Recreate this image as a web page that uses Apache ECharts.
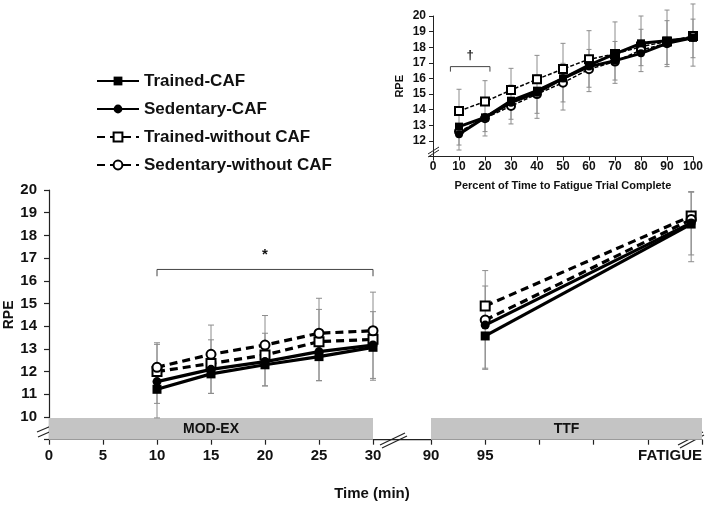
<!DOCTYPE html>
<html>
<head>
<meta charset="utf-8">
<script src="https://cdn.jsdelivr.net/npm/echarts@6/dist/echarts.min.js"></script>
<style>html,body{margin:0;padding:0;background:#fff}#c{width:714px;height:508px}</style>
</head>
<body>
<div id="c"></div>
<script>
// ---------- DATA ----------
const seriesNames = ['Trained-CAF', 'Sedentary-CAF', 'Trained-without CAF', 'Sedentary-without CAF'];

// Main panel: moderate exercise (MOD-EX), minutes
const modX = [10, 15, 20, 25, 30];
const modTrainedCAF = [11.22, 11.90, 12.30, 12.66, 13.07];
const modSedCAF     = [11.56, 12.10, 12.44, 12.88, 13.17];
const modTrainedW   = [12.00, 12.36, 12.73, 13.32, 13.42];
const modSedW       = [12.19, 12.76, 13.17, 13.69, 13.80];
const modErrTrainedCAF = [1.26, 0.86, 0.93, 1.06, 1.45];
const modErrSedCAF     = [0.96, 1.06, 1.07, 1.28, 1.47];
const modErrTrainedW   = [1.20, 1.04, 0.96, 1.42, 1.22];
const modErrSedW       = [1.08, 1.29, 1.30, 1.54, 1.70];

// Main panel: time to fatigue (TTF)
const ttfX = [95, 114];
const ttfTrainedCAF = [13.57, 18.50];
const ttfSedCAF     = [14.05, 18.55];
const ttfTrainedW   = [14.89, 18.85];
const ttfSedW       = [14.27, 18.70];
const ttfErrTrainedCAF = [1.47, 1.66];
const ttfErrSedCAF     = [1.90, 1.41];
const ttfErrTrainedW   = [1.56, 1.08];
const ttfErrSedW       = [1.50, 1.20];

// Inset: percent of time to fatigue trial complete
const pctX = [10, 20, 30, 40, 50, 60, 70, 80, 90, 100];
const pctTrainedCAF = [12.92, 13.51, 14.58, 15.22, 16.01, 16.86, 17.57, 18.25, 18.42, 18.60];
const pctSedCAF     = [12.43, 13.51, 14.45, 15.09, 16.01, 16.76, 17.14, 17.61, 18.25, 18.60];
const pctTrainedW   = [13.92, 14.52, 15.26, 15.95, 16.61, 17.23, 17.57, 18.04, 18.36, 18.72];
const pctSedW       = [12.60, 13.45, 14.24, 15.00, 15.73, 16.59, 17.08, 17.82, 18.25, 18.70];
const pctErrTrainedCAF = [0.90, 1.00, 1.00, 1.00, 0.96, 1.00, 0.80, 0.90, 1.28, 1.20];
const pctErrSedCAF     = [1.01, 1.19, 1.36, 1.64, 2.03, 1.60, 1.45, 1.17, 1.49, 1.81];
const pctErrTrainedW   = [1.39, 1.34, 1.39, 1.53, 1.64, 1.83, 2.05, 1.96, 2.02, 2.05];
const pctErrSedW       = [0.86, 0.85, 0.85, 1.23, 1.23, 1.15, 1.18, 1.00, 1.35, 1.37];

// error direction: +1 up, -1 down
const errDirMain  = [-1, -1, 1, 1];
const errDirInset = [1, -1, 1, -1];

// axis tick labels
const ttfTicks = ['90', '95', '', '', '', 'FATIGUE'];
const bandLabels = ['MOD-EX', 'TTF'];
const bandX = [[0, 30], [90, 115]];
const bandTop = 9.96;

// significance brackets: [x1, x2, yLine, yTickEnd, symbol, ySymbol]
const mainBracket = [10, 30, 16.5, 16.2, '*', 17.15];
const insetBracket = [6.7, 21.9, 16.76, 16.44, '\u2020', 17.45];

// ---------- CHART ----------
const FONT = "'Liberation Sans', Arial, sans-serif";
const INK = '#111';
const ERR = '#8c8c8c';

const styles = [
  {symbol: 'rect', dashed: false},
  {symbol: 'circle', dashed: false},
  {symbol: 'emptyRect', dashed: true},
  {symbol: 'emptyCircle', dashed: true}
];
const modVals = [modTrainedCAF, modSedCAF, modTrainedW, modSedW];
const modErrs = [modErrTrainedCAF, modErrSedCAF, modErrTrainedW, modErrSedW];
const ttfVals = [ttfTrainedCAF, ttfSedCAF, ttfTrainedW, ttfSedW];
const ttfErrs = [ttfErrTrainedCAF, ttfErrSedCAF, ttfErrTrainedW, ttfErrSedW];
const pctVals = [pctTrainedCAF, pctSedCAF, pctTrainedW, pctSedW];
const pctErrs = [pctErrTrainedCAF, pctErrSedCAF, pctErrTrainedW, pctErrSedW];

function errSeries(xs, vals, errs, dir, axis, cap) {
  return {
    type: 'custom', coordinateSystem: 'cartesian2d',
    xAxisIndex: axis, yAxisIndex: axis, silent: true, z: 1,
    encode: {x: 0, y: 1},
    data: xs.map((x, i) => [x, vals[i], errs[i], dir]),
    renderItem: function (params, api) {
      const x = api.value(0), y = api.value(1), e = api.value(2), d = api.value(3);
      const p0 = api.coord([x, y]);
      const p1 = api.coord([x, y + d * e]);
      const st = {stroke: ERR, lineWidth: 1};
      return {type: 'group', children: [
        {type: 'line', shape: {x1: p0[0], y1: p0[1], x2: p1[0], y2: p1[1]}, style: st},
        {type: 'line', shape: {x1: p1[0] - cap, y1: p1[1], x2: p1[0] + cap, y2: p1[1]}, style: st}
      ]};
    }
  };
}

function lineSeries(g, xs, vals, axis, inset) {
  const s = styles[g];
  return {
    name: seriesNames[g], type: 'line', xAxisIndex: axis, yAxisIndex: axis,
    data: xs.map((x, i) => [x, vals[i]]),
    symbol: s.symbol, symbolSize: inset ? 8 : 9, showSymbol: true,
    z: s.dashed ? 3 : 4,
    lineStyle: {color: '#000', width: inset ? (s.dashed ? 1.5 : 3) : 3.2,
      type: s.dashed ? (inset ? [4, 2] : [8, 5]) : 'solid'},
    itemStyle: {color: '#000', borderColor: '#000', borderWidth: s.dashed ? 1.2 : 0},
    emphasis: {disabled: true}, animation: false
  };
}

function bracketSeries(b, axis, fontSize) {
  return {
    type: 'custom', coordinateSystem: 'cartesian2d', xAxisIndex: axis, yAxisIndex: axis,
    silent: true, encode: {x: 0, y: 2},
    data: [b],
    renderItem: function (params, api) {
      const a = api.coord([api.value(0), api.value(3)]);
      const b1 = api.coord([api.value(0), api.value(2)]);
      const c = api.coord([api.value(1), api.value(2)]);
      const d = api.coord([api.value(1), api.value(3)]);
      const t = api.coord([(api.value(0) + api.value(1)) / 2, api.value(5)]);
      return {type: 'group', children: [
        {type: 'polyline', shape: {points: [a, b1, c, d]}, style: {stroke: '#444', lineWidth: 1, fill: null}},
        {type: 'text', x: t[0], y: t[1], style: {text: api.value(4), fill: INK, font: 'bold ' + fontSize + 'px ' + FONT, align: 'center', verticalAlign: 'middle'}}
      ]};
    }
  };
}

const series = [];
for (let g = 0; g < 4; g++) {
  series.push(errSeries(modX, modVals[g], modErrs[g], errDirMain[g], 0, 3));
  series.push(errSeries(ttfX, ttfVals[g], ttfErrs[g], errDirMain[g], 1, 3));
  series.push(errSeries(pctX, pctVals[g], pctErrs[g], errDirInset[g], 2, 2.5));
}
for (let g = 0; g < 4; g++) {
  const m = lineSeries(g, modX, modVals[g], 0, false);
  const t = lineSeries(g, ttfX, ttfVals[g], 1, false);
  if (g === 0) {
    [m, t].forEach((s, k) => {
      s.markArea = {
        silent: true,
        itemStyle: {color: '#c4c4c4'},
        label: {show: true, position: 'inside', color: INK, fontFamily: FONT, fontWeight: 'bold', fontSize: 14},
        data: [[{name: bandLabels[k], coord: [bandX[k][0], 9]}, {coord: [bandX[k][1], bandTop]}]]
      };
    });
  }
  series.push(m, t, lineSeries(g, pctX, pctVals[g], 2, true));
}
series.push(bracketSeries(mainBracket, 0, 15));
series.push(bracketSeries(insetBracket, 2, 13));

const axLine = {lineStyle: {color: '#222', width: 1.2}};
const axTick = {length: 5, lineStyle: {color: '#222', width: 1.2}};
const lbl = (size, extra) => Object.assign({color: INK, fontFamily: FONT, fontWeight: 'bold', fontSize: size}, extra || {});

const option = {
  animation: false,
  backgroundColor: '#fff',
  grid: [
    {left: 49, top: 190, width: 324, height: 249.7},
    {left: 431, top: 190, width: 271, height: 249.7},
    {left: 433, top: 16, width: 260, height: 140.6}
  ],
  xAxis: [
    {type: 'value', gridIndex: 0, min: 0, max: 30, interval: 5, axisLine: axLine, axisTick: axTick,
     splitLine: {show: false}, axisLabel: lbl(15, {margin: 9})},
    {type: 'value', gridIndex: 1, min: 90, max: 115, interval: 5, axisLine: axLine, axisTick: axTick,
     splitLine: {show: false},
     axisLabel: lbl(15, {margin: 9, alignMaxLabel: 'right', formatter: v => ttfTicks[Math.round((v - 90) / 5)]})},
    {type: 'value', gridIndex: 2, min: 0, max: 100, interval: 10, axisLine: axLine, axisTick: {length: 4, lineStyle: {color: '#222'}},
     splitLine: {show: false}, axisLabel: lbl(12, {margin: 4}),
     name: 'Percent of Time to Fatigue Trial Complete', nameLocation: 'middle', nameGap: 24,
     nameTextStyle: lbl(11)}
  ],
  yAxis: [
    {type: 'value', gridIndex: 0, min: 9, max: 20, interval: 1, axisLine: {show: true, lineStyle: {color: '#222', width: 1.2}},
     axisTick: axTick, splitLine: {show: false},
     axisLabel: lbl(15, {margin: 12, formatter: v => v < 10 ? '' : String(v)}),
     name: 'RPE', nameLocation: 'middle', nameGap: 33, nameRotate: 90, nameTextStyle: lbl(14)},
    {type: 'value', gridIndex: 1, min: 9, max: 20, interval: 1, show: false},
    {type: 'value', gridIndex: 2, min: 11, max: 20, interval: 1, axisLine: {show: true, lineStyle: {color: '#222'}},
     axisTick: {length: 4, lineStyle: {color: '#222'}}, splitLine: {show: false},
     axisLabel: lbl(12, {margin: 7, formatter: v => v < 12 ? '' : String(v)}),
     name: 'RPE', nameLocation: 'middle', nameGap: 28, nameRotate: 90, nameTextStyle: lbl(11)}
  ],
  legend: {
    data: seriesNames, orient: 'vertical', left: 96, top: 71, padding: 0,
    itemWidth: 42, itemHeight: 11, itemGap: 8,
    textStyle: lbl(17, {lineHeight: 20}),
    selectedMode: false
  },
  title: {
    text: 'Time (min)', left: 372, top: 486, textAlign: 'center', padding: 0,
    textStyle: lbl(15)
  },
  graphic: [
    {type: 'line', shape: {x1: 373, y1: 439.7, x2: 431, y2: 439.7}, style: {stroke: '#222', lineWidth: 1.2}, silent: true},
    // axis break marks
    {type: 'line', shape: {x1: 37, y1: 432, x2: 63, y2: 421}, style: {stroke: '#222', lineWidth: 1.2}},
    {type: 'line', shape: {x1: 38, y1: 437, x2: 63, y2: 426}, style: {stroke: '#222', lineWidth: 1.2}},
    {type: 'line', shape: {x1: 380, y1: 445, x2: 405, y2: 433}, style: {stroke: '#222', lineWidth: 1.2}},
    {type: 'line', shape: {x1: 382, y1: 448, x2: 407, y2: 436}, style: {stroke: '#222', lineWidth: 1.2}},
    {type: 'line', shape: {x1: 678, y1: 445, x2: 703, y2: 432}, style: {stroke: '#222', lineWidth: 1.2}},
    {type: 'line', shape: {x1: 680, y1: 448, x2: 704, y2: 435}, style: {stroke: '#222', lineWidth: 1.2}},
    {type: 'line', shape: {x1: 428, y1: 154, x2: 439, y2: 147}, style: {stroke: '#222', lineWidth: 1}},
    {type: 'line', shape: {x1: 428, y1: 157, x2: 439, y2: 150}, style: {stroke: '#222', lineWidth: 1}}
  ],
  series: series
};

const chart = echarts.init(document.getElementById('c'), null, {renderer: 'canvas'});
chart.setOption(option);
</script>
</body>
</html>
